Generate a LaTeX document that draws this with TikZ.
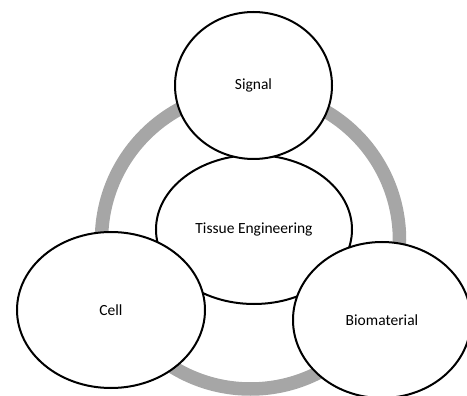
\documentclass[tikz,border=0pt]{standalone}
\usepackage{fontspec}
\setmainfont{Carlito}
\usepackage{tikz}
\usetikzlibrary{shapes.geometric, positioning}
\definecolor{ringgray}{RGB}{166,166,166}

\begin{document}
\begin{tikzpicture}[
    x=1pt, y=-1pt,
    bubble/.style={ellipse, draw=black, line width=2pt, fill=white, inner sep=0pt, font=\fontsize{15.5}{18}\selectfont},
    ring/.style={draw=ringgray, line width=13.5pt}
]
\useasboundingbox (0,0) rectangle (467,396);

% Gray ring behind everything
\draw[ring] (250.5,240) circle (149);

% Centre first, then the three around it
\node[bubble, minimum width=196pt, minimum height=149pt] (tissue) at (254,229.5) {Tissue Engineering};
\node[bubble, minimum width=157pt, minimum height=147pt] (signal) at (253.5,85.5) {Signal};
\node[bubble, minimum width=188pt, minimum height=156pt] (cell) at (111,310) {Cell};
\node[bubble, minimum width=178pt, minimum height=156pt] (biomaterial) at (382,320) {Biomaterial};

\end{tikzpicture}
\end{document}
